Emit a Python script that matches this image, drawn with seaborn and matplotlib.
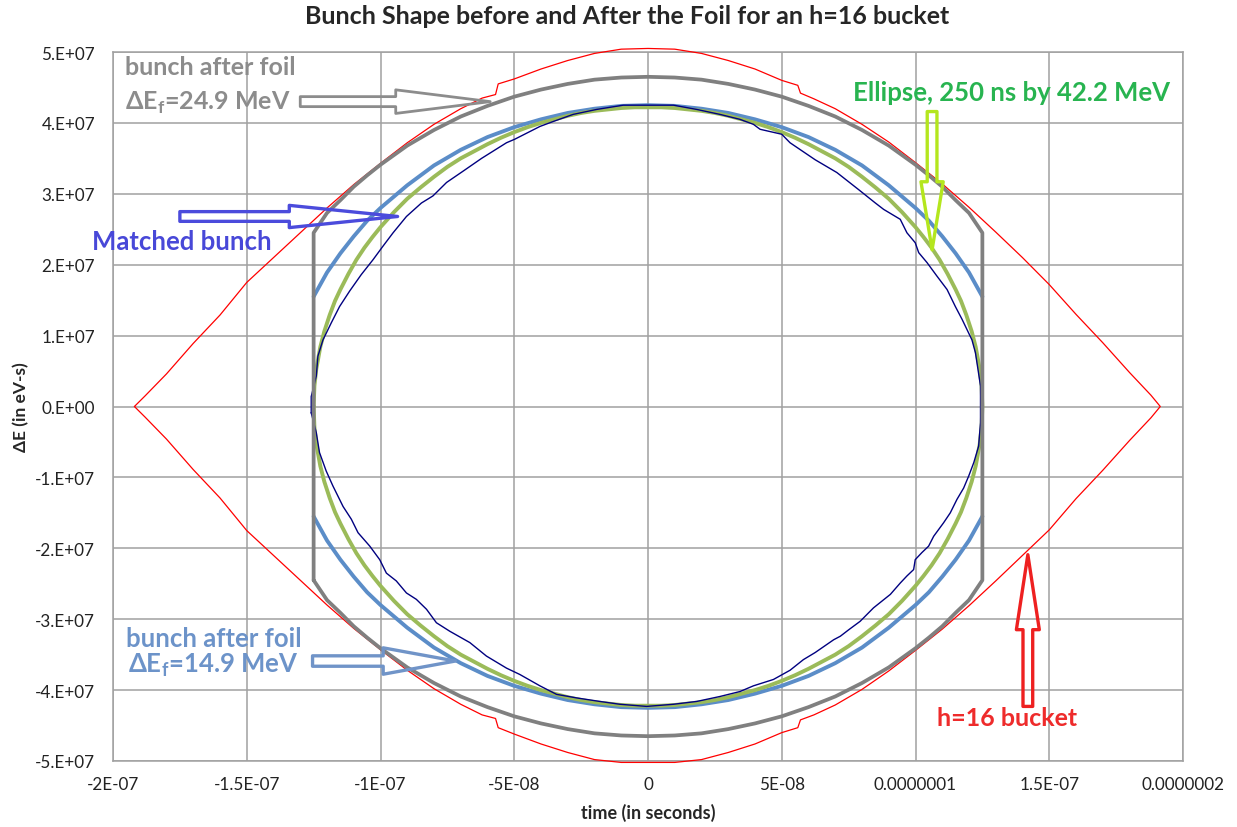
import numpy as np
import pandas as pd
import matplotlib
matplotlib.use("Agg")
import matplotlib.pyplot as plt
from matplotlib.patches import ArrowStyle
import seaborn as sns

# ---------------- data (time in ns, energy in MeV) ----------------
red_t = [-192, -188, -180, -170, -160, -150, -140, -130, -120, -110, -100, -90, -80, -70, -62, -57, -56, -50,
         -40, -30, -20, -10, 0, 10, 20, 30, 40, 50, 56, 57, 62, 70, 80, 90, 100, 110, 120, 130, 140, 150,
         160, 170, 180, 188, 191.5,
         188, 180, 170, 160, 150, 140, 130, 120, 110, 100, 90, 80, 70, 62, 57, 56, 50, 40, 30, 20, 10, 0,
         -10, -20, -30, -40, -50, -56, -57, -62, -70, -80, -90, -100, -110, -120, -130, -140, -150, -160,
         -170, -180, -188, -192]
red_e = [0, 1.5, 4.6, 8.9, 12.9, 17.5, 21.0, 24.5, 28.0, 31.3, 34.3, 37.2, 39.8, 42.0, 43.5, 44.0, 45.5, 46.2,
         47.6, 48.8, 49.8, 50.4, 50.5, 50.4, 49.8, 48.8, 47.6, 46.0, 45.3, 44.2, 43.4, 42.0, 39.8, 37.3, 34.4,
         31.4, 28.1, 24.6, 21.0, 17.2, 13.0, 9.0, 4.8, 1.6, 0,
         -1.6, -4.8, -9.0, -13.0, -17.4, -21.0, -24.6, -28.1, -31.4, -34.4, -37.3, -39.9, -42.1, -43.5, -44.2,
         -45.3, -46.0, -47.6, -48.8, -49.8, -50.2, -50.2, -50.2, -49.8, -48.8, -47.6, -46.2, -45.3, -44.0,
         -43.5, -42.0, -39.8, -37.2, -34.3, -31.3, -28.0, -24.5, -21.0, -17.5, -12.9, -8.9, -4.6, -1.5, 0]

navy_t = [-125.9, -125.9, -124.0, -123.4, -121.5, -118.4, -115.3, -111.5, -107.2, -102.8, -99.1, -95.3, -90.3,
          -84.7, -80.4, -75.3, -69.1, -62.2, -52.9, -49.8, -40.4, -35.4, -28.0, -19.2, -9.2, 0, 9.5, 18.2,
          26.9, 34.4, 39.4, 41.9, 50.0, 53.1, 62.5, 70.6, 78.7, 85.0, 88.1, 94.3, 96.8, 99.9, 101.2, 104.3,
          108.0, 111.8, 114.9, 117.4, 121.1, 122.4, 124.3,
          124.3, 123.6, 121.8, 119.9, 118.0, 115.5, 113.0, 110.5, 106.8, 104.9, 102.4, 99.9, 99.3, 96.8, 94.3,
          90.6, 84.3, 79.3, 75.0, 71.9, 69.4, 62.5, 58.1, 53.1, 46.9, 39.4, 34.4, 26.9, 18.2, 9.5, -0.5,
          -10.5, -18.0, -26.7, -34.2, -40.4, -47.9, -52.9, -60.4, -66.6, -74.1, -79.1, -82.8, -86.6, -90.3,
          -94.1, -97.8, -100.3, -104.0, -108.4, -110.9, -114.0, -117.8, -120.3, -122.8, -124.0, -125.9]
navy_e = [-0.9, 1.4, 4.3, 7.1, 9.4, 11.8, 14.1, 16.3, 18.6, 20.7, 22.6, 24.5, 26.8, 28.7, 29.7, 31.6, 33.2,
          35.0, 37.2, 37.7, 39.5, 40.2, 41.2, 41.9, 42.5, 42.5, 42.5, 41.9, 41.2, 40.5, 39.8, 39.1, 38.4, 37.2,
          34.8, 33.0, 30.6, 28.7, 27.8, 26.4, 24.5, 23.1, 21.7, 20.3, 18.4, 16.5, 14.1, 12.3, 9.4, 7.6, 2.9,
          -2.3, -5.6, -7.9, -9.8, -11.5, -13.1, -15.0, -16.4, -18.3, -19.7, -20.6, -21.6, -23.0, -23.9, -24.9,
          -26.5, -28.4, -30.3, -31.5, -32.4, -32.9, -34.7, -35.7, -37.2, -38.5, -39.4, -40.2, -40.9, -41.6,
          -42.0, -42.3, -42.0, -41.6, -41.1, -40.6, -39.4, -37.8, -36.9, -35.2, -33.3, -31.7, -30.5, -28.6,
          -27.2, -26.3, -24.6, -23.5, -21.6, -19.7, -17.8, -15.9, -14.1, -11.2, -9.1, -6.5, -3.7, -0.9]

# bunch after foil, dE_f = 24.9 MeV (closed outline incl. vertical sides)
gray_t = [-125, -125, -120, -115, -110, -105, -100, -90, -80, -70, -60, -50, -40, -30, -20, -10, 0,
          10, 20, 30, 40, 50, 60, 70, 80, 90, 100, 105, 110, 115, 120, 125,
          125, 120, 115, 110, 105, 100, 90, 80, 70, 60, 50, 40, 30, 20, 10, 0,
          -10, -20, -30, -40, -50, -60, -70, -80, -90, -100, -105, -110, -115, -120, -125]
gray_e = [-24.5, 24.5, 27.3, 29.1, 31.0, 32.6, 34.1, 36.8, 39.0, 40.9, 42.4, 43.7, 44.7, 45.5, 46.1, 46.4, 46.5,
          46.4, 46.1, 45.5, 44.7, 43.7, 42.4, 40.9, 39.0, 36.8, 34.1, 32.6, 31.0, 29.1, 27.3, 24.5,
          -24.5, -27.3, -29.1, -31.0, -32.6, -34.1, -36.8, -39.0, -40.9, -42.4, -43.7, -44.7, -45.5, -46.1,
          -46.4, -46.5, -46.4, -46.1, -45.5, -44.7, -43.7, -42.4, -40.9, -39.0, -36.8, -34.1, -32.6, -31.0,
          -29.1, -27.3, -24.5]

# ellipse 250 ns by 42.2 MeV
green_t = [-125, -124.7, -124, -122.5, -121, -119, -117, -115, -112, -109, -106, -103, -100, -95, -90, -85,
           -80, -75, -70, -65, -60, -55, -50, -45, -40, -35, -30, -25, -20, -15, -10, -5, 0,
           5, 10, 15, 20, 25, 30, 35, 40, 45, 50, 55, 60, 65, 70, 75, 80, 85, 90, 95, 100, 103, 106, 109, 112,
           115, 117, 119, 121, 122.5, 124, 124.7, 125,
           124.7, 124, 122.5, 121, 119, 117, 115, 112, 109, 106, 103, 100, 95, 90, 85, 80, 75, 70, 65, 60, 55,
           50, 45, 40, 35, 30, 25, 20, 15, 10, 5, 0,
           -5, -10, -15, -20, -25, -30, -35, -40, -45, -50, -55, -60, -65, -70, -75, -80, -85, -90, -95, -100,
           -103, -106, -109, -112, -115, -117, -119, -121, -122.5, -124, -124.7, -125]
green_e = [0, 2.9, 5.3, 8.4, 10.6, 12.9, 14.9, 16.5, 18.7, 20.7, 22.4, 23.9, 25.3, 27.4, 29.3, 30.9,
           32.4, 33.8, 35.0, 36.0, 37.0, 37.9, 38.7, 39.4, 40.0, 40.5, 41.0, 41.4, 41.7, 41.9, 42.1, 42.2, 42.2,
           42.2, 42.1, 41.9, 41.7, 41.4, 41.0, 40.5, 40.0, 39.4, 38.7, 37.9, 37.0, 36.0, 35.0, 33.8, 32.4,
           30.9, 29.3, 27.4, 25.3, 23.9, 22.4, 20.7, 18.7, 16.5, 14.9, 12.9, 10.6, 8.4, 5.3, 2.9, 0,
           -2.9, -5.3, -8.4, -10.6, -12.9, -14.9, -16.5, -18.7, -20.7, -22.4, -23.9, -25.3, -27.4, -29.3,
           -30.9, -32.4, -33.8, -35.0, -36.0, -37.0, -37.9, -38.7, -39.4, -40.0, -40.5, -41.0, -41.4, -41.7,
           -41.9, -42.1, -42.2, -42.2,
           -42.2, -42.1, -41.9, -41.7, -41.4, -41.0, -40.5, -40.0, -39.4, -38.7, -37.9, -37.0, -36.0, -35.0,
           -33.8, -32.4, -30.9, -29.3, -27.4, -25.3, -23.9, -22.4, -20.7, -18.7, -16.5, -14.9, -12.9, -10.6,
           -8.4, -5.3, -2.9, 0]

# bunch after foil, dE_f = 14.9 MeV (upper and lower arcs)
blue_t_upper = [-125, -120, -115, -110, -105, -100, -90, -80, -70, -60, -50, -40, -30, -20, -10, 0,
                10, 20, 30, 40, 50, 60, 70, 80, 90, 100, 105, 110, 115, 120, 125]
blue_e_upper = [15.5, 18.9, 21.6, 24.0, 26.2, 28.0, 31.2, 34.0, 36.2, 38.0, 39.4, 40.5, 41.4, 42.0, 42.4, 42.5,
                42.4, 42.0, 41.4, 40.5, 39.4, 38.0, 36.2, 34.0, 31.2, 28.0, 26.2, 24.0, 21.6, 18.9, 15.5]
blue_t_lower = [-125, -120, -115, -110, -105, -100, -90, -80, -70, -60, -50, -40, -30, -20, -10, 0,
                10, 20, 30, 40, 50, 60, 70, 80, 90, 100, 105, 110, 115, 120, 125]
blue_e_lower = [-15.5, -18.9, -21.6, -24.0, -26.2, -28.0, -31.2, -34.0, -36.2, -38.0, -39.4, -40.5, -41.4,
                -42.0, -42.4, -42.5, -42.4, -42.0, -41.4, -40.5, -39.4, -38.0, -36.2, -34.0, -31.2, -28.0,
                -26.2, -24.0, -21.6, -18.9, -15.5]

x_ticks = [-2e-7, -1.5e-7, -1e-7, -5e-8, 0, 5e-8, 1e-7, 1.5e-7, 2e-7]
x_tick_labels = ["-2E-07", "-1.5E-07", "-1E-07", "-5E-08", "0", "5E-08", "0.0000001", "1.5E-07", "0.0000002"]
y_ticks = [-5e7, -4e7, -3e7, -2e7, -1e7, 0, 1e7, 2e7, 3e7, 4e7, 5e7]
y_tick_labels = ["-5.E+07", "-4.E+07", "-3.E+07", "-2.E+07", "-1.E+07", "0.E+00",
                 "1.E+07", "2.E+07", "3.E+07", "4.E+07", "5.E+07"]

NS = 1e-9
MEV = 1e6

# ---------------- style ----------------
sns.set_style("white")
plt.rcParams['font.family'] = ['Lato', 'DejaVu Sans']

fig = plt.figure(figsize=(12.37, 8.28), dpi=100)
ax = fig.add_axes([113 / 1237, 1 - 762 / 828, (1183 - 113) / 1237, (762 - 53) / 828])

def frame(t, e, unit=None):
    d = pd.DataFrame({"t": np.asarray(t, float) * NS, "e": np.asarray(e, float) * MEV})
    d["u"] = 0 if unit is None else unit
    return d

red_df = frame(red_t, red_e)
navy_df = frame(navy_t, navy_e)
gray_df = frame(gray_t, gray_e)
green_df = frame(green_t, green_e)
blue_df = pd.concat([frame(blue_t_upper, blue_e_upper, 0), frame(blue_t_lower, blue_e_lower, 1)])

sns.lineplot(data=red_df, x="t", y="e", sort=False, estimator=None, color="#FF0000", lw=0.9, ax=ax,
             zorder=3, clip_on=False)
sns.lineplot(data=blue_df, x="t", y="e", units="u", sort=False, estimator=None, color="#5B8DC8", lw=2.8,
             ax=ax, zorder=4)
sns.lineplot(data=green_df, x="t", y="e", sort=False, estimator=None, color="#9BBB59", lw=2.8, ax=ax,
             zorder=5)
sns.lineplot(data=navy_df, x="t", y="e", sort=False, estimator=None, color="#000080", lw=1.0, ax=ax,
             zorder=6)
sns.lineplot(data=gray_df, x="t", y="e", sort=False, estimator=None, color="#808080", lw=2.7, ax=ax,
             zorder=7)

ax.set_xlim(-2e-7, 2e-7)
ax.set_ylim(-5e7, 5e7)
ax.set_xticks(x_ticks)
ax.set_xticklabels(x_tick_labels)
ax.set_yticks(y_ticks)
ax.set_yticklabels(y_tick_labels)
ax.tick_params(axis="both", length=0, labelsize=12.3, colors="#222222")
ax.tick_params(axis="x", pad=11)
ax.tick_params(axis="y", pad=13)
ax.grid(True, color="#A0A0A0", lw=1.1)
ax.set_axisbelow(True)
for s in ax.spines.values():
    s.set_color("#A0A0A0")
    s.set_linewidth(1.1)

ax.set_xlabel("time (in seconds)", fontsize=13, fontweight="bold", labelpad=8)
ax.set_ylabel("ΔE (in eV-s)", fontsize=12.5, fontweight="bold", labelpad=4)
fig.text(627 / 1237, 1 - 17 / 828, "Bunch Shape before and After the Foil for an h=16 bucket",
         ha="center", va="center", fontsize=18, fontweight="bold")

# ---------------- annotations ----------------
def label(t, e, s, color, size, ha="left"):
    ax.text(t * NS, e * MEV, s, color=color, fontsize=size, fontweight="bold", ha=ha, va="center",
            clip_on=False, zorder=10)

def hollow_arrow(tail, tip, color, hl, hw, tw, lw):
    ax.annotate("", xy=(tip[0] * NS, tip[1] * MEV), xytext=(tail[0] * NS, tail[1] * MEV),
                arrowprops=dict(arrowstyle=ArrowStyle.Simple(head_length=hl, head_width=hw, tail_width=tw),
                                fc="none", ec=color, lw=lw, shrinkA=0, shrinkB=0, mutation_scale=10),
                annotation_clip=False, zorder=10)

label(-195.7, 48.0, "bunch after foil", "#8C8C8C", 18)
label(-195.7, 43.0, r"ΔE$_{\mathregular{f}}$=24.9 MeV", "#8C8C8C", 18)
hollow_arrow((-130, 43.0), (-59, 43.0), "#8C8C8C", 6.8, 1.7, 0.72, 2.0)

label(-207.7, 23.4, "Matched bunch", "#4848D8", 18.5)
hollow_arrow((-175, 26.8), (-93.6, 26.8), "#4B4BDC", 7.8, 1.6, 0.7, 2.4)

label(76.7, 44.4, "Ellipse, 250 ns by 42.2 MeV", "#28B450", 18.5)
hollow_arrow((106.2, 41.6), (106.2, 22.1), "#B4E61E", 4.9, 1.6, 0.7, 2.4)

label(-162.5, -32.6, "bunch after foil", "#6C93C9", 18.5, ha="center")
label(-162.5, -36.4, r"ΔE$_{\mathregular{f}}$=14.9 MeV", "#6C93C9", 18.5, ha="center")
hollow_arrow((-125.4, -35.9), (-72, -35.9), "#7094C8", 5.2, 1.9, 0.75, 2.4)

label(108.2, -43.9, "h=16 bucket", "#EE2B2B", 18)
hollow_arrow((142.0, -42.3), (142.0, -20.9), "#EE2020", 5.4, 1.65, 0.7, 2.4)

fig.savefig("out.png", dpi=100)
